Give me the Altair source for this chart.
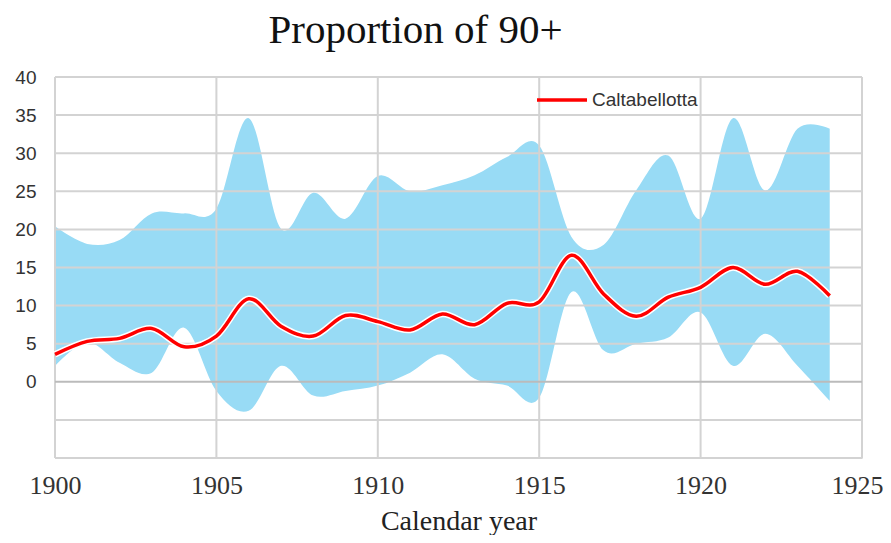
import altair as alt
import pandas as pd

years = list(range(1900, 1925))
mean = [3.6, 5.3, 5.7, 7.0, 4.6, 6.0, 10.9, 7.3, 6.0, 8.7, 7.9, 6.8, 8.9, 7.5, 10.3,
        10.5, 16.6, 11.5, 8.6, 11.1, 12.4, 15.0, 12.8, 14.5, 11.3]
upper = [20.4, 18.1, 18.6, 22.1, 22.1, 22.7, 34.6, 20.1, 24.8, 21.4, 27.0, 25.0, 25.8, 27.1, 29.5,
         31.0, 19.0, 18.0, 25.1, 29.7, 21.4, 34.6, 25.1, 33.2, 33.2]
lower = [2.1, 5.2, 2.5, 1.2, 7.1, -1.2, -3.8, 2.1, -1.8, -1.2, -0.5, 1.2, 3.6, 0.4, -0.5,
         -2.1, 11.8, 4.1, 5.0, 5.8, 9.1, 2.1, 6.3, 2.1, -2.5]
series_name = "Caltabellotta"

x_ticks = [1900, 1905, 1910, 1915, 1920, 1925]
y_ticks = [0, 5, 10, 15, 20, 25, 30, 35, 40]
h_grid = [-10, -5, 5, 10, 15, 20, 25, 30, 35, 40]
zero_line = [0]

df = pd.DataFrame({"year": years, "mean": mean, "upper": upper, "lower": lower,
                   "series": [series_name] * len(years)})
hg = pd.DataFrame({"v": h_grid})
zg = pd.DataFrame({"v": zero_line})
vg = pd.DataFrame({"v": x_ticks})

xscale = alt.Scale(domain=[1900, 1925], nice=False, zero=False)
yscale = alt.Scale(domain=[-10, 40], nice=False)

serif = "Liberation Serif"
sans = "Liberation Sans"
curve = "cardinal"

x_axis = alt.Axis(values=x_ticks, format="d", grid=False, domain=False, ticks=False,
                  labelFlush=False,
                  labelOffset={"condition": {"test": "datum.value == 1925", "value": -5},
                               "value": 0},
                  labelFont=serif, labelFontSize=26, labelColor="#333333", labelPadding=14,
                  title="Calendar year", titleFont=serif, titleFontSize=28,
                  titleFontWeight="normal", titleColor="#222222", titlePadding=9)
y_axis = alt.Axis(values=y_ticks, grid=False, domain=False, ticks=False,
                  labelFont=sans, labelFontSize=19, labelColor="#333333", labelPadding=19,
                  title=None)

band = alt.Chart(df).mark_area(color="#98DBF5", interpolate=curve, opacity=1).encode(
    x=alt.X("year:Q", scale=xscale, axis=x_axis),
    y=alt.Y("lower:Q", scale=yscale, axis=y_axis),
    y2="upper:Q",
)

hgrid = alt.Chart(hg).mark_rule(color="#D3D3D3", strokeWidth=2).encode(
    y=alt.Y("v:Q", scale=yscale, axis=y_axis))
vgrid = alt.Chart(vg).mark_rule(color="#D3D3D3", strokeWidth=2).encode(
    x=alt.X("v:Q", scale=xscale, axis=x_axis))
zgrid = alt.Chart(zg).mark_rule(color="#BBBBBB", strokeWidth=2).encode(
    y=alt.Y("v:Q", scale=yscale, axis=y_axis))

halo = alt.Chart(df).mark_line(color="white", strokeWidth=6.5, interpolate=curve).encode(
    x=alt.X("year:Q", scale=xscale, axis=x_axis),
    y=alt.Y("mean:Q", scale=yscale, axis=y_axis),
)

line = alt.Chart(df).mark_line(strokeWidth=3.5, interpolate=curve).encode(
    x=alt.X("year:Q", scale=xscale, axis=x_axis),
    y=alt.Y("mean:Q", scale=yscale, axis=y_axis),
    color=alt.Color("series:N", scale=alt.Scale(domain=[series_name], range=["#FF0000"]),
                    legend=alt.Legend(orient="none", legendX=480, legendY=-4, title=None,
                                      symbolType="stroke", symbolSize=2500,
                                      symbolStrokeWidth=3.5, labelFont=sans, labelFontSize=19,
                                      labelColor="#333333", labelOffset=3, padding=0)),
)

chart = alt.layer(band, hgrid, vgrid, zgrid, halo, line).properties(
    width=807, height=381,
    title=alt.TitleParams("Proportion of 90+", font=serif, fontSize=41, fontWeight="normal",
                          color="#111111", anchor="middle", dx=-43, offset=16),
    autosize=alt.AutoSizeParams(type="none"),
    padding={"left": 47, "top": 69, "right": 21, "bottom": 77},
).configure_view(stroke=None).configure(background="white")

chart.save("out.html", embed_options={"renderer": "svg", "actions": False})
